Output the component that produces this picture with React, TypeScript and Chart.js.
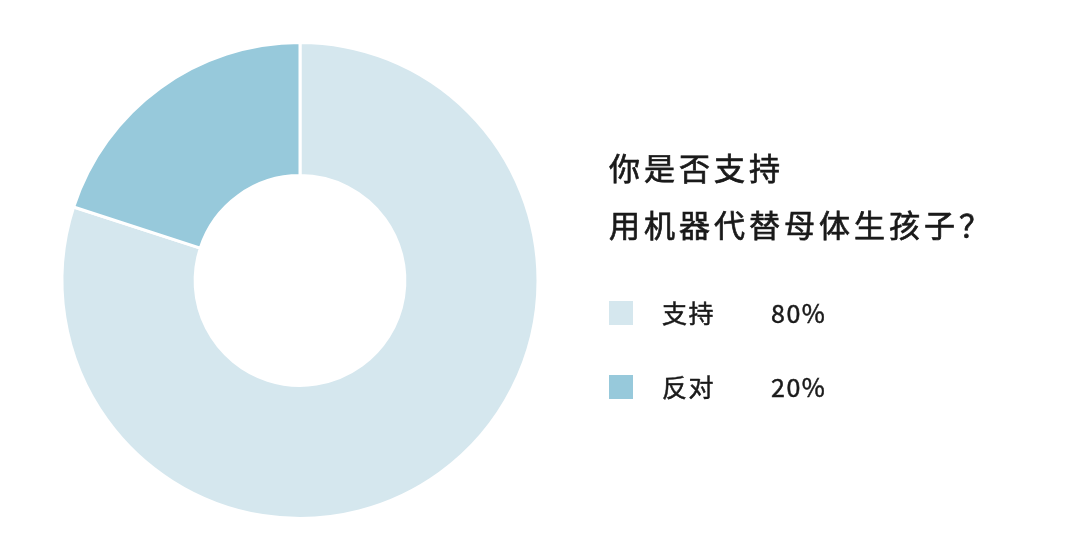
import React, { useRef, useEffect } from 'react'
import { Chart, registerables } from 'chart.js'

Chart.register(...registerables)

const titleLines = ['你是否支持', '用机器代替母体生孩子？']
const labels = ['支持', '反对']
const values = [80, 20]
const colors = ['#d5e7ee', '#97c9db']

const FONT = '"Noto Sans CJK SC", "Noto Sans", sans-serif'
const INK = '#1a1a1a'

// medium-ish weight: regular glyphs with a thin outline
const drawText = (ctx: CanvasRenderingContext2D, text: string, x: number, y: number) => {
	ctx.fillText(text, x, y)
	ctx.strokeText(text, x, y)
}

// title + legend drawn on the right side of the canvas
const sidePanel = {
	id: 'sidePanel',
	afterDraw(chart: Chart) {
		const ctx = chart.ctx
		ctx.save()
		ctx.fillStyle = INK
		ctx.strokeStyle = INK
		ctx.lineWidth = 0.7
		ctx.textBaseline = 'middle'
		ctx.textAlign = 'left'
		ctx.font = `400 31px ${FONT}`
		;(ctx as any).letterSpacing = '4px'
		titleLines.forEach((line, i) => {
			drawText(ctx, line, 609, 168 + i * 57)
		})
		;(ctx as any).letterSpacing = '1.5px'
		ctx.lineWidth = 0.5
		const data = chart.data.datasets[0].data as number[]
		const total = data.reduce((a, b) => a + b, 0)
		;(chart.data.labels as string[]).forEach((label, i) => {
			const y = 313 + i * 74
			ctx.fillStyle = colors[i]
			ctx.fillRect(609, y - 12, 24, 24)
			ctx.fillStyle = INK
			ctx.font = `400 25px ${FONT}`
			drawText(ctx, label, 662, y)
			drawText(ctx, `${Math.round((data[i] / total) * 100)}%`, 771, y)
		})
		ctx.restore()
	},
}

const App: React.FC = () => {
	const chartRef = useRef<HTMLCanvasElement | null>(null)

	useEffect(() => {
		if (chartRef.current) {
			const ctx = chartRef.current.getContext('2d')
			if (ctx) {
				const newChart = new Chart(ctx, {
					type: 'doughnut',
					data: {
						labels: labels,
						datasets: [
							{
								data: values,
								backgroundColor: colors,
								borderColor: '#ffffff',
								borderWidth: 3,
								hoverOffset: 0,
							},
						],
					},
					options: {
						animation: false,
						responsive: true,
						maintainAspectRatio: false,
						radius: 238,
						cutout: 104,
						layout: {
							padding: { left: 62, right: 542, top: 43, bottom: 41 },
						},
						plugins: {
							legend: { display: false },
							tooltip: { enabled: false },
						},
					},
					plugins: [sidePanel],
				})

				return () => {
					newChart.destroy()
				}
			}
		}
	}, [])

	return (
		<div
			style={{
				position: 'fixed',
				left: 0,
				top: 0,
				width: 1080,
				height: 559,
				background: '#ffffff',
			}}
		>
			<canvas ref={chartRef} />
		</div>
	)
}

export default App
